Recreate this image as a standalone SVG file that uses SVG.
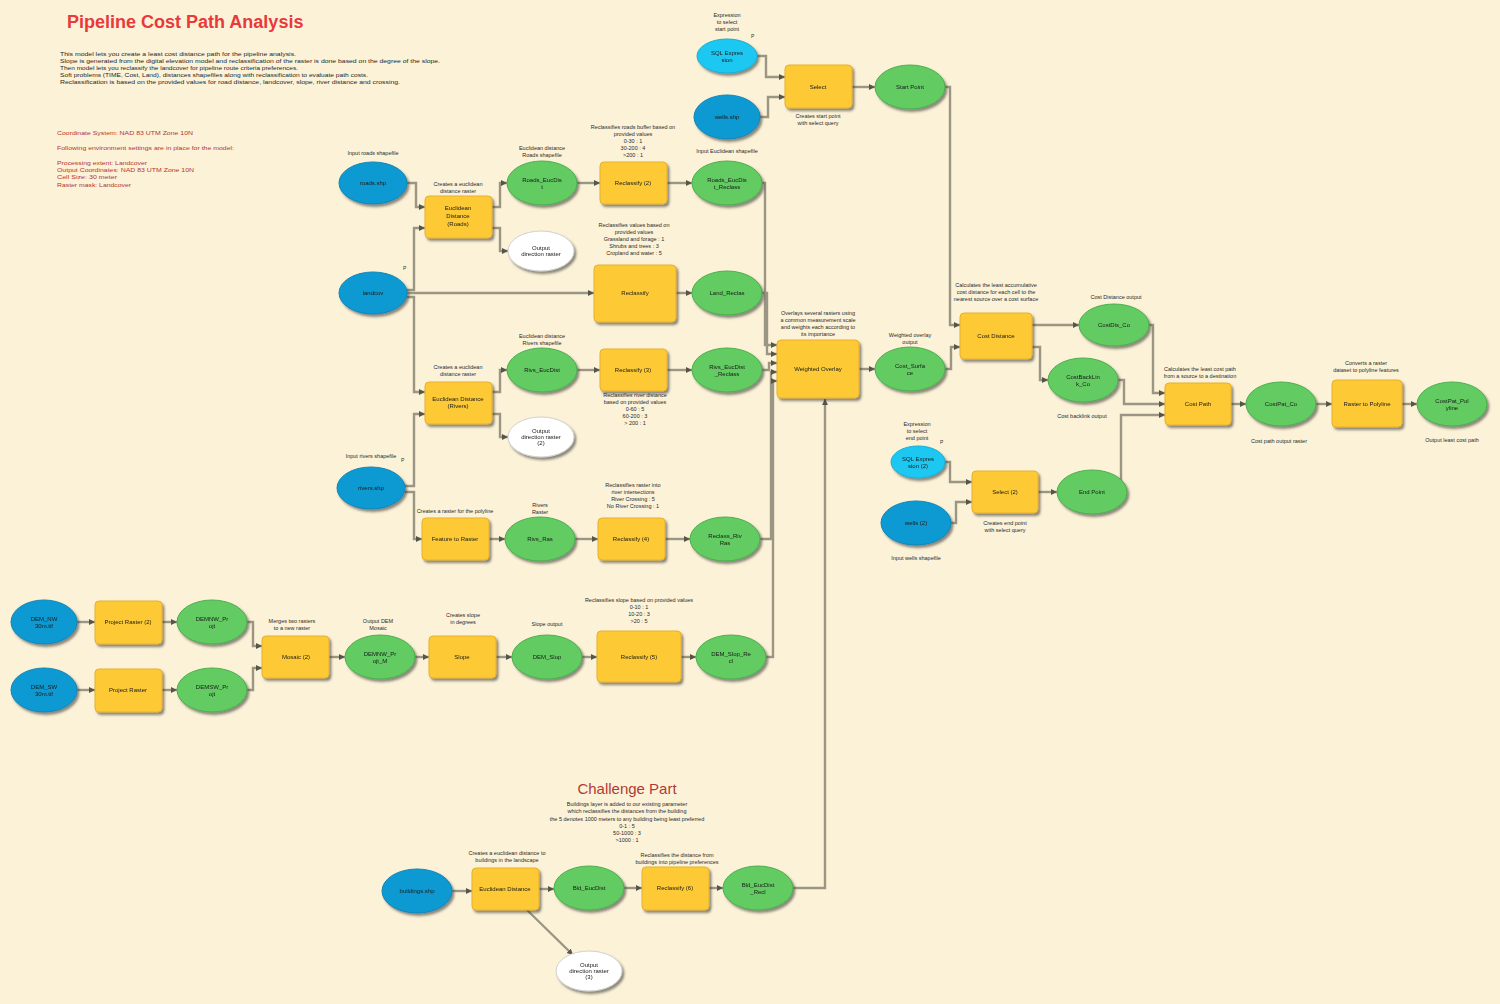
<svg xmlns="http://www.w3.org/2000/svg" width="1500" height="1004" viewBox="0 0 1500 1004">
<defs>
<style>
.bg{fill:#fcf2d8}
.b{fill:#0e9ad2;stroke:#0b86b8;stroke-width:1}
.lb{fill:#1ec8f2;stroke:#17afd6;stroke-width:1}
.y{fill:#fdca35;stroke:#e7b02c;stroke-width:1}
.g{fill:#62cb62;stroke:#4cae4c;stroke-width:1}
.w{fill:#ffffff;stroke:#cfcfcf;stroke-width:1}
.c{fill:none;stroke:#9b9684;stroke-width:2.4;marker-end:url(#ar)}
text{font-family:"Liberation Sans",Arial,sans-serif;fill:#1a1a1a}
.t{font-size:6px;text-anchor:middle}
.l{font-size:5.5px;text-anchor:middle;fill:#2a2a2a}
.d{font-size:5.5px;fill:#1f1f1f}
.r{font-size:5.5px;fill:#b5322e}
.p{font-size:5px;fill:#333}
</style>
<marker id="ar" markerUnits="userSpaceOnUse" markerWidth="7" markerHeight="7" refX="6" refY="3" orient="auto">
<path d="M0,0 L6,3 L0,6 z" fill="#55554a"/>
</marker>
<filter id="sh" x="-20%" y="-20%" width="150%" height="160%">
<feDropShadow dx="2" dy="2.5" stdDeviation="1.2" flood-color="#333" flood-opacity="0.55"/>
</filter>
</defs>
<rect class="bg" x="0" y="0" width="1500" height="1004"/>

<g id="notes">
<text x="67" y="28" style="font-size:18px;font-weight:bold;fill:#e8393b">Pipeline Cost Path Analysis</text>
<text class="d" x="60" y="56" textLength="236" lengthAdjust="spacingAndGlyphs">This model lets you create a least cost distance path for the pipeline analysis.</text>
<text class="d" x="60" y="63" textLength="380" lengthAdjust="spacingAndGlyphs">Slope is generated from the digital elevation model and reclassification of the raster is done based on the degree of the slope.</text>
<text class="d" x="60" y="70" textLength="238" lengthAdjust="spacingAndGlyphs">Then model lets you reclassify the landcover for pipeline route criteria preferences.</text>
<text class="d" x="60" y="77" textLength="308" lengthAdjust="spacingAndGlyphs">Soft problems (TIME, Cost, Land), distances shapefiles along with reclassification to evaluate path costs.</text>
<text class="d" x="60" y="84" textLength="340" lengthAdjust="spacingAndGlyphs">Reclassification is based on the provided values for road distance, landcover, slope, river distance and crossing.</text>
<text class="r" x="57" y="135" textLength="136" lengthAdjust="spacingAndGlyphs">Coordinate System: NAD 83 UTM Zone 10N</text>
<text class="r" x="57" y="150" textLength="177" lengthAdjust="spacingAndGlyphs">Following environment settings are in place for the model:</text>
<text class="r" x="57" y="165" textLength="90" lengthAdjust="spacingAndGlyphs">Processing extent: Landcover</text>
<text class="r" x="57" y="172" textLength="137" lengthAdjust="spacingAndGlyphs">Output Coordinates: NAD 83 UTM Zone 10N</text>
<text class="r" x="57" y="179" textLength="60" lengthAdjust="spacingAndGlyphs">Cell Size: 30 meter</text>
<text class="r" x="57" y="187" textLength="74" lengthAdjust="spacingAndGlyphs">Raster mask: Landcover</text>
<text x="627" y="794" style="font-size:15px;fill:#b23a36;text-anchor:middle">Challenge Part</text>
<text class="l" x="627" y="806">Buildings layer is added to our existing parameter</text>
<text class="l" x="627" y="813">which reclassifies the distances from the building</text>
<text class="l" x="627" y="821">the 5 denotes 1000 meters to any building being least preferred</text>
<text class="l" x="627" y="828">0-1 : 5</text>
<text class="l" x="627" y="835">50-1000 : 3</text>
<text class="l" x="627" y="842">&gt;1000 : 1</text>
</g>

<g id="connectors">
<path class="c" d="M757,56 H766 V77 H785"/>
<path class="c" d="M760,117 H768 V97 H785"/>
<path class="c" d="M852,87 H875"/>
<path class="c" d="M945,87 H950 V325 H960"/>
<path class="c" d="M407,183 H416 V207 H425"/>
<path class="c" d="M407,290 H414 V228 H425"/>
<path class="c" d="M492,207 H500 V183 H507"/>
<path class="c" d="M492,228 H500 V251 H508"/>
<path class="c" d="M577,183 H600"/>
<path class="c" d="M667,183 H692"/>
<path class="c" d="M407,293 H594"/>
<path class="c" d="M676,293 H692"/>
<path class="c" d="M407,297 H414 V392 H425"/>
<path class="c" d="M405,486 H414 V414 H425"/>
<path class="c" d="M492,392 H500 V370 H507"/>
<path class="c" d="M492,414 H500 V437 H508"/>
<path class="c" d="M577,370 H600"/>
<path class="c" d="M667,370 H692"/>
<path class="c" d="M405,492 H414 V539 H422"/>
<path class="c" d="M489,539 H505"/>
<path class="c" d="M575,539 H598"/>
<path class="c" d="M665,539 H690"/>
<path class="c" d="M77,622 H95"/>
<path class="c" d="M77,690 H95"/>
<path class="c" d="M162,622 H177"/>
<path class="c" d="M162,690 H177"/>
<path class="c" d="M247,622 H253 V646 H262"/>
<path class="c" d="M247,690 H253 V668 H262"/>
<path class="c" d="M329,657 H345"/>
<path class="c" d="M415,657 H429"/>
<path class="c" d="M496,657 H512"/>
<path class="c" d="M582,657 H597"/>
<path class="c" d="M681,657 H696"/>
<path class="c" d="M762,183 H765 V345 H777"/>
<path class="c" d="M762,293 H767 V354 H777"/>
<path class="c" d="M762,370 H769 V363 H777"/>
<path class="c" d="M760,539 H771 V372 H777"/>
<path class="c" d="M766,657 H773 V381 H777"/>
<path class="c" d="M793,888 H825 V399"/>
<path class="c" d="M859,369 H875"/>
<path class="c" d="M945,369 H951 V347 H960"/>
<path class="c" d="M1032,325 H1079"/>
<path class="c" d="M1032,347 H1040 V380 H1048"/>
<path class="c" d="M1149,325 H1153 V393 H1165"/>
<path class="c" d="M1118,380 H1124 V404 H1165"/>
<path class="c" d="M1121,483 V415 H1165"/>
<path class="c" d="M1231,404 H1246"/>
<path class="c" d="M1316,404 H1332"/>
<path class="c" d="M1402,404 H1417"/>
<path class="c" d="M945,462 H950 V482 H972"/>
<path class="c" d="M951,523 H956 V502 H972"/>
<path class="c" d="M1038,492 H1057"/>
<path class="c" d="M452,891 H472"/>
<path class="c" d="M539,889 H554"/>
<path class="c" d="M624,888 H642"/>
<path class="c" d="M709,888 H723"/>
<path class="c" d="M527,910 L573,955"/>
</g>

<g id="nodes" filter="url(#sh)">
<g id="expr1"><ellipse class="lb" cx="727" cy="56" rx="30" ry="17"/><text class="t" x="727" y="55">SQL Expres</text><text class="t" x="727" y="62">sion</text></g>
<g id="wells1"><ellipse class="b" cx="727" cy="117" rx="33" ry="22"/><text class="t" x="727" y="119">wells.shp</text></g>
<g id="select1"><rect class="y" x="785" y="65" width="67" height="43" rx="4"/><text class="t" x="818" y="89">Select</text></g>
<g id="startpt"><ellipse class="g" cx="910" cy="87" rx="35" ry="22"/><text class="t" x="910" y="89">Start Point</text></g>

<g id="roads"><ellipse class="b" cx="373" cy="183" rx="34" ry="21"/><text class="t" x="373" y="185">roads.shp</text></g>
<g id="eucroads"><rect class="y" x="425" y="196" width="67" height="42" rx="4"/><text class="t" x="458" y="210">Euclidean</text><text class="t" x="458" y="218">Distance</text><text class="t" x="458" y="226">(Roads)</text></g>
<g id="roadseuc"><ellipse class="g" cx="542" cy="183" rx="35" ry="22"/><text class="t" x="542" y="182">Roads_EucDis</text><text class="t" x="542" y="189">t</text></g>
<g id="dir1"><ellipse class="w" cx="541" cy="251" rx="33" ry="20"/><text class="t" x="541" y="250">Output</text><text class="t" x="541" y="256">direction raster</text></g>
<g id="reclass2"><rect class="y" x="600" y="162" width="67" height="42" rx="4"/><text class="t" x="633" y="185">Reclassify (2)</text></g>
<g id="roadsrecl"><ellipse class="g" cx="727" cy="183" rx="35" ry="22"/><text class="t" x="727" y="182">Roads_EucDis</text><text class="t" x="727" y="189">t_Reclass</text></g>

<g id="landcov"><ellipse class="b" cx="373" cy="293" rx="34" ry="21"/><text class="t" x="373" y="295">landcov</text></g>
<g id="reclass"><rect class="y" x="594" y="265" width="82" height="57" rx="4"/><text class="t" x="635" y="295">Reclassify</text></g>
<g id="landrecl"><ellipse class="g" cx="727" cy="293" rx="35" ry="22"/><text class="t" x="727" y="295">Land_Reclas</text></g>

<g id="eucrivers"><rect class="y" x="425" y="382" width="67" height="42" rx="4"/><text class="t" x="458" y="401">Euclidean Distance</text><text class="t" x="458" y="408">(Rivers)</text></g>
<g id="riveuc"><ellipse class="g" cx="542" cy="370" rx="35" ry="22"/><text class="t" x="542" y="372">Rivs_EucDist</text></g>
<g id="dir2"><ellipse class="w" cx="541" cy="437" rx="33" ry="20"/><text class="t" x="541" y="433">Output</text><text class="t" x="541" y="439">direction raster</text><text class="t" x="541" y="445">(2)</text></g>
<g id="reclass3"><rect class="y" x="600" y="349" width="67" height="42" rx="4"/><text class="t" x="633" y="372">Reclassify (3)</text></g>
<g id="rivrecl"><ellipse class="g" cx="727" cy="370" rx="35" ry="22"/><text class="t" x="727" y="369">Rivs_EucDist</text><text class="t" x="727" y="376">_Reclass</text></g>

<g id="rivers"><ellipse class="b" cx="371" cy="488" rx="34" ry="21"/><text class="t" x="371" y="490">rivers.shp</text></g>
<g id="ftr"><rect class="y" x="422" y="518" width="67" height="42" rx="4"/><text class="t" x="455" y="541">Feature to Raster</text></g>
<g id="rivras"><ellipse class="g" cx="540" cy="539" rx="35" ry="22"/><text class="t" x="540" y="541">Rivs_Ras</text></g>
<g id="reclass4"><rect class="y" x="598" y="518" width="67" height="42" rx="4"/><text class="t" x="631" y="541">Reclassify (4)</text></g>
<g id="rivrasrecl"><ellipse class="g" cx="725" cy="539" rx="35" ry="22"/><text class="t" x="725" y="538">Reclass_Riv</text><text class="t" x="725" y="545">Ras</text></g>

<g id="dem1"><ellipse class="b" cx="44" cy="622" rx="33" ry="22"/><text class="t" x="44" y="621">DEM_NW</text><text class="t" x="44" y="628">30m.tif</text></g>
<g id="dem2"><ellipse class="b" cx="44" cy="690" rx="33" ry="22"/><text class="t" x="44" y="689">DEM_SW</text><text class="t" x="44" y="696">30m.tif</text></g>
<g id="proj2"><rect class="y" x="95" y="601" width="67" height="43" rx="4"/><text class="t" x="128" y="624">Project Raster (2)</text></g>
<g id="proj1"><rect class="y" x="95" y="669" width="67" height="43" rx="4"/><text class="t" x="128" y="692">Project Raster</text></g>
<g id="demproj1"><ellipse class="g" cx="212" cy="622" rx="35" ry="22"/><text class="t" x="212" y="621">DEMNW_Pr</text><text class="t" x="212" y="628">ojt</text></g>
<g id="demproj2"><ellipse class="g" cx="212" cy="690" rx="35" ry="22"/><text class="t" x="212" y="689">DEMSW_Pr</text><text class="t" x="212" y="696">ojt</text></g>
<g id="mosaic"><rect class="y" x="262" y="636" width="67" height="42" rx="4"/><text class="t" x="296" y="659">Mosaic (2)</text></g>
<g id="demmos"><ellipse class="g" cx="380" cy="657" rx="35" ry="22"/><text class="t" x="380" y="656">DEMNW_Pr</text><text class="t" x="380" y="663">ojt_M</text></g>
<g id="slope"><rect class="y" x="429" y="636" width="67" height="42" rx="4"/><text class="t" x="462" y="659">Slope</text></g>
<g id="demslope"><ellipse class="g" cx="547" cy="657" rx="35" ry="22"/><text class="t" x="547" y="659">DEM_Slop</text></g>
<g id="reclass5"><rect class="y" x="597" y="631" width="84" height="51" rx="4"/><text class="t" x="639" y="659">Reclassify (5)</text></g>
<g id="sloperecl"><ellipse class="g" cx="731" cy="657" rx="35" ry="22"/><text class="t" x="731" y="656">DEM_Slop_Re</text><text class="t" x="731" y="663">cl</text></g>

<g id="wover"><rect class="y" x="777" y="340" width="82" height="58" rx="4"/><text class="t" x="818" y="371">Weighted Overlay</text></g>
<g id="costsurf"><ellipse class="g" cx="910" cy="369" rx="35" ry="22"/><text class="t" x="910" y="368">Cost_Surfa</text><text class="t" x="910" y="375">ce</text></g>
<g id="costdist"><rect class="y" x="960" y="313" width="72" height="46" rx="4"/><text class="t" x="996" y="338">Cost Distance</text></g>
<g id="costdisout"><ellipse class="g" cx="1114" cy="325" rx="35" ry="21"/><text class="t" x="1114" y="327">CostDis_Co</text></g>
<g id="backlink"><ellipse class="g" cx="1083" cy="380" rx="35" ry="22"/><text class="t" x="1083" y="379">CostBackLin</text><text class="t" x="1083" y="386">k_Co</text></g>
<g id="costpath"><rect class="y" x="1165" y="383" width="66" height="42" rx="4"/><text class="t" x="1198" y="406">Cost Path</text></g>
<g id="costpatout"><ellipse class="g" cx="1281" cy="404" rx="35" ry="22"/><text class="t" x="1281" y="406">CostPat_Co</text></g>
<g id="r2p"><rect class="y" x="1332" y="380" width="70" height="47" rx="4"/><text class="t" x="1367" y="406">Raster to Polyline</text></g>
<g id="polyline"><ellipse class="g" cx="1452" cy="404" rx="35" ry="22"/><text class="t" x="1452" y="403">CostPat_Pol</text><text class="t" x="1452" y="410">yline</text></g>

<g id="expr2"><ellipse class="lb" cx="918" cy="462" rx="27" ry="16"/><text class="t" x="918" y="461">SQL Expres</text><text class="t" x="918" y="468">sion (2)</text></g>
<g id="wells2"><ellipse class="b" cx="916" cy="523" rx="35" ry="22"/><text class="t" x="916" y="525">wells (2)</text></g>
<g id="select2"><rect class="y" x="972" y="471" width="66" height="42" rx="4"/><text class="t" x="1005" y="494">Select (2)</text></g>
<g id="endpt"><ellipse class="g" cx="1092" cy="492" rx="35" ry="22"/><text class="t" x="1092" y="494">End Point</text></g>

<g id="buildings"><ellipse class="b" cx="417" cy="891" rx="35" ry="22"/><text class="t" x="417" y="893">buildings.shp</text></g>
<g id="eucbld"><rect class="y" x="472" y="868" width="67" height="42" rx="4"/><text class="t" x="505" y="891">Euclidean Distance</text></g>
<g id="bldeuc"><ellipse class="g" cx="589" cy="888" rx="35" ry="22"/><text class="t" x="589" y="890">Bld_EucDist</text></g>
<g id="dir3"><ellipse class="w" cx="589" cy="971" rx="33" ry="20"/><text class="t" x="589" y="967">Output</text><text class="t" x="589" y="973">direction raster</text><text class="t" x="589" y="979">(3)</text></g>
<g id="reclass6"><rect class="y" x="642" y="867" width="67" height="43" rx="4"/><text class="t" x="675" y="890">Reclassify (6)</text></g>
<g id="bldrecl"><ellipse class="g" cx="758" cy="888" rx="35" ry="22"/><text class="t" x="758" y="887">Bld_EucDist</text><text class="t" x="758" y="894">_Recl</text></g>
</g>

<g id="labels">
<text class="l" x="727" y="17">Expression</text><text class="l" x="727" y="24">to select</text><text class="l" x="727" y="31">start point</text>
<text class="p" x="751" y="38">P</text>
<text class="l" x="818" y="118">Creates start point</text><text class="l" x="818" y="125">with select query</text>
<text class="l" x="373" y="155">Input roads shapefile</text>
<text class="l" x="458" y="186">Creates a euclidean</text><text class="l" x="458" y="193">distance raster</text>
<text class="l" x="542" y="150">Euclidean distance</text><text class="l" x="542" y="157">Roads shapefile</text>
<text class="l" x="633" y="129">Reclassifies roads buffer based on</text><text class="l" x="633" y="136">provided values</text><text class="l" x="633" y="143">0-30 : 1</text><text class="l" x="633" y="150">30-200 : 4</text><text class="l" x="633" y="157">&gt;200 : 1</text>
<text class="l" x="727" y="153">Input Euclidean shapefile</text>
<text class="p" x="403" y="270">P</text>
<text class="l" x="634" y="227">Reclassifies values based on</text><text class="l" x="634" y="234">provided values</text><text class="l" x="634" y="241">Grassland and forage : 1</text><text class="l" x="634" y="248">Shrubs and trees : 3</text><text class="l" x="634" y="255">Cropland and water : 5</text>
<text class="l" x="458" y="369">Creates a euclidean</text><text class="l" x="458" y="376">distance raster</text>
<text class="l" x="542" y="338">Euclidean distance</text><text class="l" x="542" y="345">Rivers shapefile</text>
<text class="l" x="635" y="397">Reclassifies river distance</text><text class="l" x="635" y="404">based on provided values</text><text class="l" x="635" y="411">0-60 : 5</text><text class="l" x="635" y="418">60-200 : 3</text><text class="l" x="635" y="425">&gt; 200 : 1</text>
<text class="l" x="371" y="458">Input rivers shapefile</text>
<text class="p" x="401" y="462">P</text>
<text class="l" x="455" y="513">Creates a raster for the polyline</text>
<text class="l" x="540" y="507">Rivers</text><text class="l" x="540" y="514">Raster</text>
<text class="l" x="633" y="487">Reclassifies raster into</text><text class="l" x="633" y="494">river intersections</text><text class="l" x="633" y="501">River Crossing : 5</text><text class="l" x="633" y="508">No River Crossing : 1</text>
<text class="l" x="292" y="623">Merges two rasters</text><text class="l" x="292" y="630">to a new raster</text>
<text class="l" x="378" y="623">Output DEM</text><text class="l" x="378" y="630">Mosaic</text>
<text class="l" x="463" y="617">Creates slope</text><text class="l" x="463" y="624">in degrees</text>
<text class="l" x="547" y="626">Slope output</text>
<text class="l" x="639" y="602">Reclassifies slope based on provided values</text><text class="l" x="639" y="609">0-10 : 1</text><text class="l" x="639" y="616">10-20 : 3</text><text class="l" x="639" y="623">&gt;20 : 5</text>
<text class="l" x="818" y="315">Overlays several rasters using</text><text class="l" x="818" y="322">a common measurement scale</text><text class="l" x="818" y="329">and weights each according to</text><text class="l" x="818" y="336">its importance</text>
<text class="l" x="910" y="337">Weighted overlay</text><text class="l" x="910" y="344">output</text>
<text class="l" x="996" y="287">Calculates the least accumulative</text><text class="l" x="996" y="294">cost distance for each cell to the</text><text class="l" x="996" y="301">nearest source over a cost surface</text>
<text class="l" x="1116" y="299">Cost Distance output</text>
<text class="l" x="1082" y="418">Cost backlink output</text>
<text class="l" x="1200" y="371">Calculates the least cost path</text><text class="l" x="1200" y="378">from a source to a destination</text>
<text class="l" x="1279" y="443">Cost path output raster</text>
<text class="l" x="1366" y="365">Converts a raster</text><text class="l" x="1366" y="372">dataset to polyline features</text>
<text class="l" x="1452" y="442">Output least cost path</text>
<text class="l" x="917" y="426">Expression</text><text class="l" x="917" y="433">to select</text><text class="l" x="917" y="440">end point</text>
<text class="p" x="940" y="444">P</text>
<text class="l" x="1005" y="525">Creates end point</text><text class="l" x="1005" y="532">with select query</text>
<text class="l" x="916" y="560">Input wells shapefile</text>
<text class="l" x="507" y="855">Creates a euclidean distance to</text><text class="l" x="507" y="862">buildings in the landscape</text>
<text class="l" x="677" y="857">Reclassifies the distance from</text><text class="l" x="677" y="864">buildings into pipeline preferences</text>
</g>
</svg>
